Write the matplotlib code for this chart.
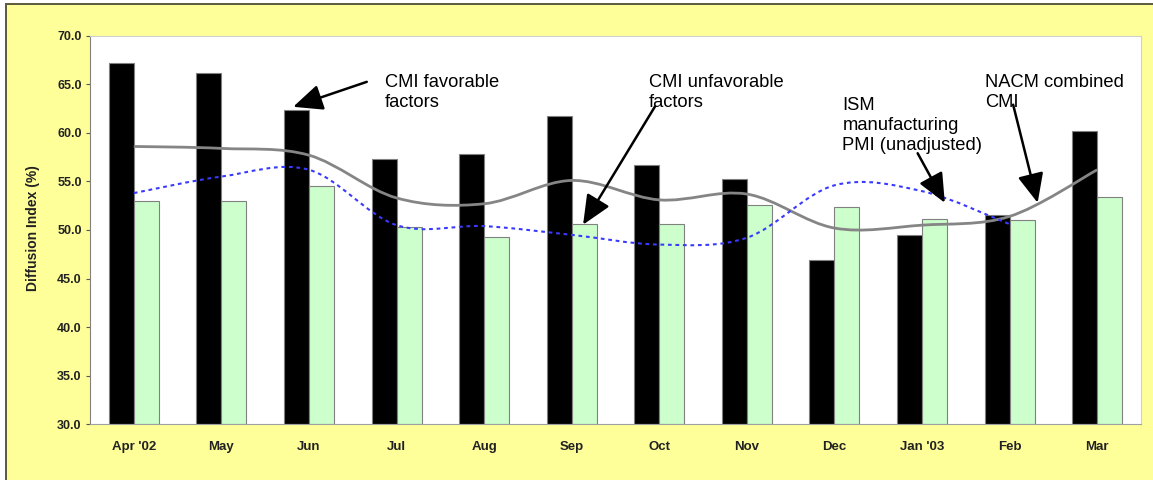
import matplotlib.pyplot as plt
import numpy as np
from matplotlib.path import Path
from matplotlib.patches import PathPatch, Rectangle

plt.rcParams['font.family'] = ['Liberation Sans', 'DejaVu Sans']

months = ["Apr '02", 'May', 'Jun', 'Jul', 'Aug', 'Sep', 'Oct', 'Nov', 'Dec', "Jan '03", 'Feb', 'Mar']
favorable = [67.2, 66.2, 62.4, 57.3, 57.8, 61.7, 56.7, 55.3, 46.9, 49.5, 51.5, 60.2]
unfavorable = [53.0, 53.0, 54.5, 50.3, 49.3, 50.6, 50.6, 52.6, 52.4, 51.1, 51.0, 53.4]
combined_cmi = [58.6, 58.4, 57.7, 53.3, 52.7, 55.1, 53.1, 53.7, 50.2, 50.5, 51.4, 56.2]
ism_pmi = [53.8, 55.5, 56.2, 50.5, 50.4, 49.5, 48.5, 49.2, 54.6, 54.0, 50.6]  # no Mar reading
yticks = [30, 35, 40, 45, 50, 55, 60, 65, 70]


def smooth_path(xs, ys):
    # bezier segments through every point, like a spreadsheet "smoothed line"
    pts = np.column_stack([xs, ys]).astype(float)
    n = len(pts)
    verts = [pts[0]]
    codes = [Path.MOVETO]
    for i in range(n - 1):
        p0 = pts[max(i - 1, 0)]
        p1 = pts[i]
        p2 = pts[i + 1]
        p3 = pts[min(i + 2, n - 1)]
        c1 = p1 + (p2 - p0) / 6.0
        c2 = p2 - (p3 - p1) / 6.0
        verts += [c1, c2, p2]
        codes += [Path.CURVE4] * 3
    return Path(verts, codes)


fig = plt.figure(figsize=(11.53, 4.8), dpi=100, facecolor='white')
fig.patches.append(Rectangle((6 / 1153, -0.05), 1.1, (480 - 4) / 480 + 0.05,
                             transform=fig.transFigure, facecolor='#FFFF99',
                             edgecolor='#5a5a3c', linewidth=1.4, zorder=-5))

ax = fig.add_axes([90 / 1153, (480 - 424.3) / 480, 1051 / 1153, (424.3 - 35.7) / 480])
ax.set_facecolor('white')

x = np.arange(len(months))
w = 0.2857
ax.bar(x - w / 2, np.array(favorable) - 30, w, bottom=30, color='black',
       edgecolor='#808080', linewidth=0.8, zorder=2)
ax.bar(x + w / 2, np.array(unfavorable) - 30, w, bottom=30, color='#CCFFCC',
       edgecolor='#808080', linewidth=0.8, zorder=2)

ax.add_patch(PathPatch(smooth_path(x, combined_cmi), facecolor='none',
                       edgecolor='#858585', linewidth=2.0, zorder=3))
ax.add_patch(PathPatch(smooth_path(x[:len(ism_pmi)], ism_pmi), facecolor='none',
                       edgecolor='#3a3aFF', linewidth=1.5, linestyle=(0, (1.8, 1.8)),
                       zorder=3))

ax.set_xlim(-0.5, len(months) - 0.5)
ax.set_ylim(30, 70)
ax.set_yticks(yticks)
ax.set_yticklabels([f'{v:.1f}' for v in yticks], fontsize=9, fontweight='bold', color='#222222')
ax.set_xticks(x)
ax.set_xticklabels(months, fontsize=9.5, fontweight='bold', color='#222222')
ax.tick_params(axis='x', length=0, pad=12)
ax.tick_params(axis='y', length=3, width=0.8, color='#555555', pad=3)
for side in ['top', 'right']:
    ax.spines[side].set_color('#d0d0d0')
    ax.spines[side].set_linewidth(0.8)
ax.spines['left'].set_color('#808080')
ax.spines['bottom'].set_color('#a0a0a0')

fig.text(33 / 1153, (480 - 228) / 480, 'Diffusion Index (%)', rotation=90,
         ha='center', va='center', fontsize=10, fontweight='bold', color='#222222')

arrow = dict(arrowstyle='-|>,head_length=1.8,head_width=0.8', mutation_scale=10,
             color='black', linewidth=1.8, shrinkA=0, shrinkB=0)
notes = [
    ('CMI favorable\nfactors', (2.87, 66.1), (2.66, 65.25), (1.82, 62.68)),
    ('CMI unfavorable\nfactors', (5.88, 66.1), (5.95, 62.7), (5.13, 50.55)),
    ('ISM\nmanufacturing\nPMI (unadjusted)', (8.09, 63.7), (8.95, 57.9), (9.26, 52.8)),
    ('NACM combined\nCMI', (9.72, 66.1), (10.04, 62.9), (10.32, 52.8)),
]
for label, pos, tail, tip in notes:
    ax.text(pos[0], pos[1], label, ha='left', va='top', fontsize=13.2,
            linespacing=1.25, zorder=5)
    ax.annotate('', xy=tip, xytext=tail, arrowprops=arrow, zorder=5)

fig.savefig('out.png', dpi=100)
